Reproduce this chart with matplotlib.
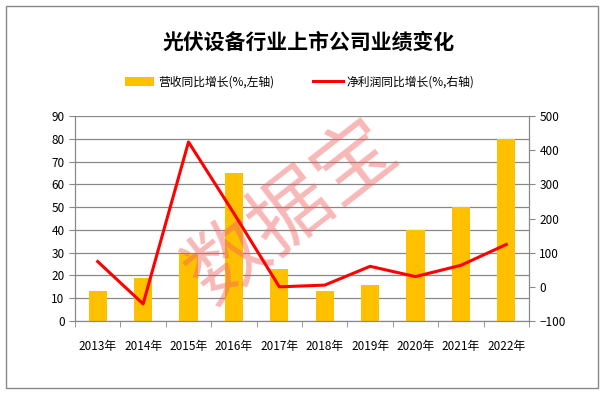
import numpy as np
import matplotlib.pyplot as plt
from matplotlib.patches import Rectangle

plt.rcParams['font.family'] = ['Noto Sans CJK SC', 'DejaVu Sans']

years = ['2013年', '2014年', '2015年', '2016年', '2017年',
         '2018年', '2019年', '2020年', '2021年', '2022年']
revenue_growth = [13, 19, 29.5, 65, 23, 13, 16, 40, 50, 80]
profit_growth = [74, -50, 424, 215, 0, 5, 60, 30, 63, 124]

fig = plt.figure(figsize=(6.05, 3.95), dpi=100)
fig.patches.append(Rectangle((0.01, 0.017), 0.978, 0.968, transform=fig.transFigure,
                             fill=False, edgecolor='#888888', linewidth=1.0))

ax = fig.add_axes([75 / 605, 1 - 321 / 395, 454 / 605, 205 / 395])
x = np.arange(len(years))

ax.bar(x, revenue_growth, width=0.4, color='#FFC000', zorder=2, label='营收同比增长(%,左轴)')
ax.set_xlim(-0.5, len(years) - 0.5)
ax.set_ylim(0, 90)
ax.set_yticks(range(0, 91, 10))
ax.yaxis.grid(True, color='#888888', linewidth=0.9, zorder=0)
ax.set_axisbelow(True)
ax.set_xticks(x)
ax.set_xticklabels(years, fontsize=8.5)
ax.set_xticks(np.arange(-0.5, len(years)), minor=True)
ax.tick_params(axis='x', which='major', length=0, pad=14)
ax.tick_params(axis='x', which='minor', length=4, color='#888888')
ax.tick_params(axis='y', length=4, color='#888888', labelsize=8.5)
ax.spines['top'].set_visible(False)
for s in ['left', 'right', 'bottom']:
    ax.spines[s].set_color('#888888')

ax2 = ax.twinx()
ax2.plot(x, profit_growth, color='#FF0000', linewidth=2.2, zorder=3, label='净利润同比增长(%,右轴)')
ax2.set_ylim(-100, 500)
ax2.set_yticks(range(-100, 501, 100))
ax2.tick_params(axis='y', length=4, color='#888888', labelsize=8.5)
ax2.spines['top'].set_visible(False)
for s in ['left', 'right', 'bottom']:
    ax2.spines[s].set_color('#888888')

fig.text(0.51, 1 - 42 / 395, '光伏设备行业上市公司业绩变化', ha='center', va='center',
         fontsize=15, fontweight='bold')

h1, l1 = ax.get_legend_handles_labels()
h2, l2 = ax2.get_legend_handles_labels()
fig.legend(h1 + h2, l1 + l2, loc='center', bbox_to_anchor=(0.495, 1 - 82 / 395), ncol=2,
           frameon=False, fontsize=8.5, handlelength=2.5, columnspacing=3.3,
           handletextpad=0.3)

# watermark: above the bars, below the line
ax2.text(293 / 605, 1 - 212 / 395, '数据宝', transform=fig.transFigure, ha='center',
         va='center', rotation=38, fontsize=58, color='#F06060', alpha=0.45, zorder=1)

fig.savefig('out.png', dpi=100)
